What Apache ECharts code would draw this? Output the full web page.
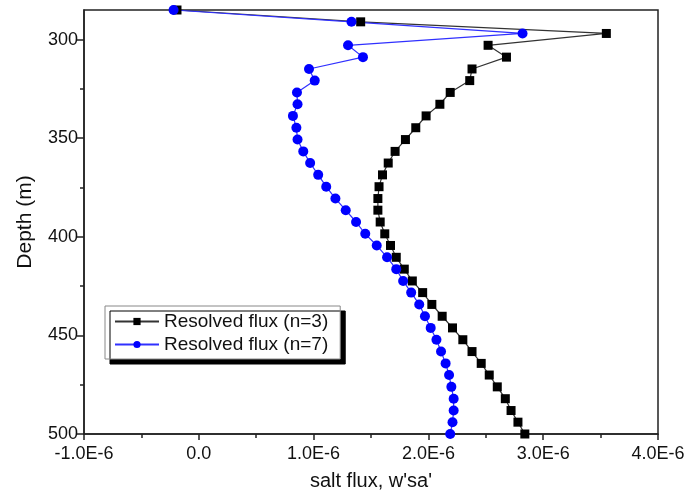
<!DOCTYPE html>
<html>
<head>
<meta charset="utf-8">
<script src="https://cdn.jsdelivr.net/npm/echarts@6/dist/echarts.min.js"></script>
<style>
  html, body { margin: 0; padding: 0; background: #fff; }
  #chart { width: 688px; height: 491px; }
</style>
</head>
<body>
<div id="chart"></div>
<script>
// depth of each level (m)
const depths = [
  285.0, 291.0, 296.9, 302.9, 308.9, 314.9, 320.8, 326.8, 332.8, 338.7,
  344.7, 350.7, 356.7, 362.6, 368.6, 374.6, 380.6, 386.5, 392.5, 398.5,
  404.4, 410.4, 416.4, 422.4, 428.3, 434.3, 440.3, 446.2, 452.2, 458.2,
  464.2, 470.1, 476.1, 482.1, 488.1, 494.0, 500.0
]

// salt flux, in units of 1E-6
const fluxN3 = [
  -0.19, 1.41, 3.55, 2.52, 2.68, 2.38, 2.36, 2.19, 2.10, 1.98,
  1.89, 1.80, 1.71, 1.65, 1.60, 1.57, 1.56, 1.56, 1.58, 1.62,
  1.67, 1.72, 1.79, 1.86, 1.95, 2.03, 2.12, 2.21, 2.30, 2.38,
  2.46, 2.53, 2.60, 2.67, 2.72, 2.78, 2.84
]
const fluxN7 = [
  -0.22, 1.33, 2.82, 1.30, 1.43, 0.96, 1.01, 0.855, 0.86, 0.82,
  0.85, 0.86, 0.91, 0.97, 1.04, 1.11, 1.19, 1.28, 1.37, 1.45,
  1.55, 1.64, 1.72, 1.78, 1.85, 1.92, 1.97, 2.02, 2.07, 2.11,
  2.15, 2.18, 2.20, 2.22, 2.22, 2.21, 2.19
]

const seriesNames = ['Resolved flux (n=3)', 'Resolved flux (n=7)']
const depthTicks = [300, 350, 400, 450, 500]
const depthMinorTicks = [325, 375, 425, 475]

const textFont = 'Liberation Sans, Arial, sans-serif'
const toPairs = (xs) => xs.map((v, i) => [v, depths[i]])

const chart = echarts.init(document.getElementById('chart'))

const option = {
  animation: false,
  backgroundColor: '#fff',
  textStyle: { fontFamily: textFont, color: '#111' },
  grid: {
    left: 84,
    right: 30,
    top: 10,
    bottom: 57,
    outerBoundsMode: 'none',
    show: true,
    borderColor: '#222',
    borderWidth: 1.5
  },
  legend: {
    data: seriesNames,
    orient: 'vertical',
    left: 105,
    top: 306,
    padding: [6, 12, 5, 9],
    itemGap: 4,
    itemWidth: 44,
    itemHeight: 9,
    backgroundColor: '#fff',
    borderColor: '#888',
    borderWidth: 1,
    borderRadius: 0,
    shadowColor: '#000',
    shadowBlur: 0,
    shadowOffsetX: 5,
    shadowOffsetY: 5,
    textStyle: { fontSize: 19, color: '#111', fontFamily: textFont }
  },
  xAxis: {
    type: 'value',
    min: -1,
    max: 4,
    interval: 1,
    name: "salt flux, w'sa'",
    nameLocation: 'middle',
    nameGap: 37,
    nameTextStyle: { fontSize: 20, color: '#111', fontFamily: textFont },
    axisLine: { onZero: false, lineStyle: { color: '#222', width: 1.5 } },
    axisTick: { length: 6, lineStyle: { color: '#222', width: 1.5 } },
    minorTick: { show: true, splitNumber: 2, length: 4, lineStyle: { color: '#222', width: 1.5 } },
    splitLine: { show: false },
    axisLabel: {
      fontSize: 18,
      color: '#111',
      margin: 11,
      formatter: (v) => Math.abs(v) < 1e-9 ? '0.0' : v.toFixed(1) + 'E-6'
    }
  },
  yAxis: [
    {
      type: 'value',
      inverse: true,
      min: 285,
      max: 500,
      position: 'left',
      name: 'Depth (m)',
      nameLocation: 'middle',
      nameGap: 48,
      nameTextStyle: { fontSize: 21, color: '#111', fontFamily: textFont },
      axisLine: { onZero: false, lineStyle: { color: '#222', width: 1.5 } },
      axisTick: { length: 7, customValues: depthTicks, lineStyle: { color: '#222', width: 1.5 } },
      axisLabel: { fontSize: 18, color: '#111', margin: 6, customValues: depthTicks },
      splitLine: { show: false }
    },
    {
      // minor ticks between the labelled depths
      type: 'value',
      inverse: true,
      min: 285,
      max: 500,
      position: 'left',
      axisLine: { show: false, onZero: false },
      axisTick: { length: 4, customValues: depthMinorTicks, lineStyle: { color: '#222', width: 1.5 } },
      axisLabel: { show: false },
      splitLine: { show: false }
    }
  ],
  series: [
    {
      name: seriesNames[0],
      type: 'line',
      data: toPairs(fluxN3),
      symbol: 'rect',
      symbolSize: 9,
      showAllSymbol: true,
      clip: false,
      itemStyle: { color: '#000' },
      lineStyle: { color: '#333', width: 1.2 }
    },
    {
      name: seriesNames[1],
      type: 'line',
      data: toPairs(fluxN7),
      symbol: 'circle',
      symbolSize: 10,
      showAllSymbol: true,
      clip: false,
      itemStyle: { color: '#0000ff' },
      lineStyle: { color: '#3030ff', width: 1.2 }
    }
  ]
}

chart.setOption(option)
window.addEventListener('resize', () => chart.resize())
</script>
</body>
</html>
